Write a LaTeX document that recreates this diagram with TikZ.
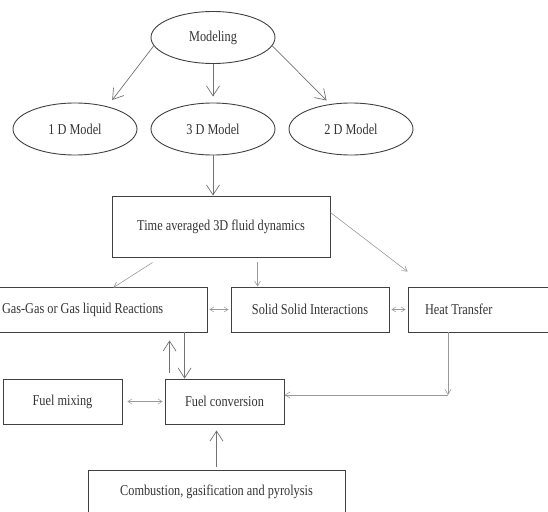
\documentclass[tikz,border=0pt]{standalone}
\usepackage{fontspec}
\setmainfont{Liberation Serif}[FakeStretch=0.82]
\usetikzlibrary{shapes.geometric, arrows.meta}

\begin{document}
\begin{tikzpicture}[x=1pt, y=-1pt,
		model/.style={ellipse, draw=black!75, line width=0.9pt, minimum width=124pt, minimum height=52pt, inner sep=0pt, text=black!80, font=\fontsize{15}{17}\selectfont},
		box/.style={rectangle, draw=black!75, line width=0.9pt, inner sep=0pt, minimum height=45pt, text=black!80, font=\fontsize{15}{17}\selectfont},
		bigarr/.style={-{Straight Barb[length=10pt,width=13pt]}, draw=black!55, line width=0.7pt},
		smallarr/.style={-{Straight Barb[length=5pt,width=6pt]}, draw=black!40, line width=0.6pt},
		twoarr/.style={{Straight Barb[length=4pt,width=5pt]}-{Straight Barb[length=4pt,width=5pt]}, draw=black!40, line width=0.5pt}]
		\useasboundingbox (0,0) rectangle (548,511);

		% Models
		\node[model] (modeling) at (213,37.5) {Modeling};
		\node[model] (m1) at (75,129) {1 D Model};
		\node[model] (m3) at (213,129) {3 D Model};
		\node[model] (m2) at (351,129) {2 D Model};

		% Boxes
		\node[box, minimum width=218pt, minimum height=61pt] (time) at (221,226.5) {Time averaged 3D fluid dynamics};
		\node[box, inner xsep=15pt] (gas) at (97,309.5) {\makebox[190pt][l]{Gas-Gas or Gas liquid Reactions}};
		\node[box, minimum width=158pt] (solid) at (310,309.5) {Solid Solid Interactions};
		\node[box, inner xsep=17pt] (heat) at (484,309.5) {\makebox[118pt][l]{Heat Transfer}};
		\node[box, minimum width=119pt] (mixing) at (62.5,401.5) {Fuel mixing};
		\node[box, minimum width=119pt] (conv) at (224.5,401.5) {Fuel conversion};
		\node[box, minimum width=257pt, minimum height=43pt] (comb) at (216.5,491.5) {Combustion, gasification and pyrolysis};
		\coordinate (bend) at (448,395);

		% Arrows
		\draw[bigarr, shorten >=8pt] (modeling.188) -- (m1.35);
		\draw[bigarr, shorten >=6pt] (modeling.south) -- (m3.north);
		\draw[bigarr, shorten >=5pt] (modeling.-8) -- (m2.130);
		\draw[bigarr] (m3.south) -- (m3.south |- time.north);

		\draw[smallarr] ([xshift=41pt,yshift=-5pt]time.south west) -- ([xshift=-94pt,yshift=-1pt]gas.north east);
		\draw[smallarr, shorten <=5pt] ([xshift=27pt]solid.north west |- time.south) -- ([xshift=27pt]solid.north west);
		\draw[smallarr] ([yshift=14pt]time.east) -- ([yshift=15pt]heat.north west);
		\draw[twoarr, shorten <=2pt, shorten >=2pt] (gas.east) -- (solid.west);
		\draw[twoarr, shorten <=2pt, shorten >=2pt] (solid.east) -- (heat.west);

		\draw[bigarr] ([xshift=20pt]conv.north west |- gas.south) -- ([xshift=20pt]conv.north west);
		\draw[bigarr, shorten <=6pt, shorten >=8pt] ([xshift=5pt]conv.north west) -- ([xshift=5pt]conv.north west |- gas.south);
		\draw[twoarr, shorten <=5pt, shorten >=2pt] (mixing.east) -- (conv.west);
		\draw[smallarr] (heat.south west -| bend) -- (bend);
		\draw[smallarr] (bend) -- (conv.east |- bend);
		\draw[bigarr, shorten <=3pt, shorten >=6pt] (comb.north) -- (comb.north |- conv.south);
	\end{tikzpicture}
\end{document}
